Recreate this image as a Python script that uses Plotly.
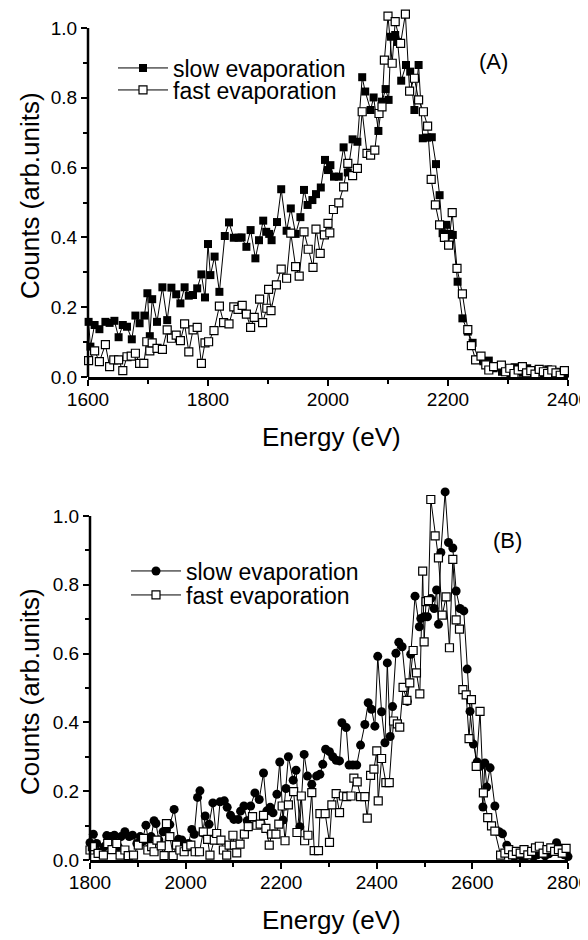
import plotly.graph_objects as go

# ---------------- Panel (A) data ----------------
energy_a_slow = [1601,1604,1611,1619,1629,1636,1644,1651,1658,1665,1673,1679,1686,1694,1699,1703,1707,1715,1724,1732,
                 1739,1747,1754,1761,1768,1775,1782,1789,1795,1800,1804,1811,1819,1828,1835,1843,1851,1856,1864,1871,
                 1879,1885,1892,1897,1902,1906,1915,1922,1931,1938,1946,1954,1960,1966,1974,1980,1988,1995,2000,2004,
                 2010,2018,2026,2033,2041,2049,2057,2062,2071,2076,2084,2090,2096,2101,2105,2112,2116,2122,2130,2137,
                 2144,2151,2158,2165,2173,2180,2186,2191,2197,2202,2208,2216,2224,2233,2241,2251,2259,2268,2276,2283,
                 2290,2297,2304,2311,2318,2325,2332,2339,2346,2353,2360,2367,2374,2381,2388,2395]
counts_a_slow = [0.158,0.087,0.149,0.137,0.158,0.155,0.161,0.114,0.149,0.144,0.108,0.176,0.154,0.176,0.240,0.117,0.223,0.158,0.257,0.163,
                 0.256,0.237,0.211,0.257,0.233,0.235,0.254,0.294,0.228,0.381,0.292,0.345,0.244,0.404,0.443,0.399,0.399,0.400,0.373,0.421,
                 0.340,0.392,0.448,0.416,0.410,0.392,0.444,0.538,0.419,0.483,0.410,0.458,0.536,0.493,0.507,0.524,0.543,0.622,0.593,0.607,
                 0.574,0.574,0.658,0.586,0.681,0.674,0.859,0.818,0.765,0.801,0.705,0.789,0.825,0.794,0.975,0.980,0.960,0.849,0.894,0.875,
                 0.765,0.894,0.684,0.686,0.687,0.610,0.521,0.412,0.436,0.410,0.407,0.273,0.168,0.130,0.098,0.051,0.045,0.047,0.025,0.030,
                 0.015,0.022,0.010,0.028,0.018,0.012,0.025,0.008,0.020,0.015,0.010,0.022,0.018,0.005,0.015,0.010]

energy_a_fast = [1601,1611,1619,1629,1636,1643,1651,1658,1665,1672,1679,1686,1693,1698,1703,1707,1715,1724,1732,1739,
                 1747,1754,1761,1768,1775,1782,1789,1795,1801,1810,1819,1826,1835,1843,1850,1857,1864,1871,1877,1886,
                 1891,1898,1901,1905,1914,1922,1931,1938,1946,1952,1960,1967,1975,1980,1987,1994,2000,2003,2009,2018,
                 2026,2033,2041,2049,2057,2065,2071,2078,2085,2090,2094,2100,2107,2112,2121,2129,2136,2144,2151,2159,
                 2166,2172,2179,2186,2194,2201,2207,2215,2224,2233,2239,2246,2255,2263,2268,2276,2289,2296,2303,2310,
                 2317,2324,2331,2338,2345,2352,2359,2366,2373,2380,2387,2394]
counts_a_fast = [0.047,0.075,0.044,0.093,0.030,0.049,0.049,0.018,0.058,0.060,0.068,0.039,0.039,0.101,0.075,0.098,0.082,0.079,0.135,0.111,
                 0.120,0.104,0.152,0.072,0.135,0.142,0.039,0.098,0.101,0.133,0.203,0.156,0.152,0.201,0.194,0.205,0.180,0.142,0.171,0.223,
                 0.156,0.197,0.251,0.190,0.264,0.309,0.283,0.412,0.316,0.289,0.416,0.366,0.314,0.424,0.354,0.407,0.440,0.413,0.480,0.499,
                 0.545,0.612,0.577,0.598,0.760,0.641,0.636,0.650,0.755,0.774,0.908,1.034,0.899,1.018,0.956,1.040,0.819,0.856,0.794,0.760,
                 0.719,0.566,0.493,0.436,0.400,0.378,0.471,0.311,0.238,0.136,0.090,0.049,0.060,0.035,0.020,0.030,0.034,0.015,0.025,0.010,
                 0.020,0.030,0.012,0.018,0.008,0.022,0.015,0.010,0.020,0.012,0.005,0.018]

# ---------------- Panel (B) data ----------------
energy_b_slow = [1800,1807,1814,1821,1830,1835,1844,1851,1859,1865,1873,1882,1889,1898,1905,1909,1917,1922,1928,1934,
                 1938,1944,1953,1960,1967,1976,1985,1992,1999,2006,2013,2018,2025,2030,2036,2041,2049,2057,2065,2072,
                 2081,2087,2094,2101,2110,2115,2122,2129,2136,2145,2154,2163,2170,2177,2183,2191,2197,2204,2210,2215,
                 2225,2231,2239,2248,2255,2264,2274,2281,2287,2293,2301,2308,2315,2322,2327,2336,2342,2350,2358,2366,
                 2375,2382,2389,2396,2402,2410,2417,2422,2428,2433,2440,2446,2453,2464,2471,2480,2489,2492,2499,2506,
                 2513,2520,2525,2529,2534,2543,2550,2559,2566,2574,2582,2589,2595,2602,2610,2616,2622,2626,2630,2637,
                 2647,2656,2663,2672,2680,2688,2696,2704,2712,2720,2728,2736,2744,2752,2760,2768,2776,2784,2792,2800]
counts_b_slow = [0.050,0.075,0.048,0.024,0.039,0.071,0.068,0.072,0.039,0.068,0.082,0.068,0.072,0.048,0.068,0.053,0.101,0.058,0.068,0.114,
                 0.106,0.058,0.082,0.087,0.103,0.147,0.060,0.058,0.043,0.048,0.089,0.075,0.182,0.201,0.079,0.128,0.104,0.166,0.058,0.169,
                 0.172,0.153,0.130,0.118,0.118,0.142,0.157,0.114,0.157,0.195,0.176,0.253,0.143,0.153,0.137,0.191,0.285,0.116,0.208,0.300,
                 0.232,0.261,0.097,0.307,0.244,0.220,0.244,0.249,0.278,0.322,0.315,0.300,0.290,0.288,0.399,0.385,0.276,0.276,0.276,0.334,
                 0.394,0.457,0.438,0.389,0.592,0.431,0.341,0.573,0.359,0.446,0.601,0.633,0.620,0.461,0.598,0.767,0.678,0.702,0.707,0.707,
                 0.760,0.731,0.785,0.685,0.894,1.070,0.923,0.907,0.782,0.731,0.724,0.555,0.432,0.337,0.285,0.272,0.154,0.282,0.212,0.268,
                 0.157,0.082,0.076,0.043,0.018,0.010,0.016,0.008,0.012,0.020,0.010,0.015,0.022,0.012,0.018,0.025,0.050,0.035,0.015,0.010]

energy_b_fast = [1800,1805,1817,1828,1837,1846,1856,1863,1873,1880,1891,1901,1912,1921,1929,1934,1940,1949,1955,1960,
                 1967,1974,1981,1988,1997,2002,2011,2020,2029,2037,2046,2051,2060,2065,2074,2079,2086,2091,2099,2102,
                 2107,2114,2123,2131,2140,2149,2156,2163,2168,2175,2180,2189,2195,2202,2208,2215,2226,2233,2242,2249,
                 2256,2264,2269,2278,2281,2292,2301,2306,2315,2322,2330,2337,2346,2352,2359,2366,2375,2380,2387,2394,
                 2400,2403,2410,2419,2426,2435,2443,2448,2455,2463,2469,2476,2483,2490,2496,2499,2503,2508,2513,2522,
                 2529,2537,2545,2552,2559,2566,2573,2580,2587,2593,2598,2608,2616,2623,2632,2640,2647,2659,2668,2676,
                 2684,2692,2700,2708,2716,2724,2732,2740,2748,2756,2764,2772,2780,2788,2796]
counts_b_fast = [0.029,0.039,0.019,0.014,0.048,0.030,0.048,0.014,0.029,0.013,0.014,0.043,0.063,0.029,0.039,0.024,0.058,0.041,0.013,0.106,
                 0.068,0.013,0.043,0.029,0.024,0.039,0.043,0.024,0.024,0.082,0.060,0.014,0.058,0.077,0.058,0.029,0.014,0.043,0.072,0.043,
                 0.021,0.046,0.075,0.097,0.126,0.101,0.104,0.130,0.092,0.043,0.075,0.075,0.104,0.157,0.056,0.160,0.199,0.080,0.186,0.056,
                 0.072,0.196,0.027,0.027,0.135,0.135,0.051,0.160,0.193,0.138,0.186,0.184,0.186,0.238,0.227,0.184,0.184,0.122,0.246,0.264,
                 0.317,0.172,0.295,0.225,0.225,0.404,0.396,0.386,0.502,0.464,0.515,0.609,0.544,0.483,0.840,0.634,0.751,0.754,1.048,0.942,
                 0.878,0.712,0.765,0.617,0.874,0.698,0.671,0.495,0.480,0.353,0.466,0.272,0.432,0.195,0.123,0.099,0.084,0.014,0.020,0.030,
                 0.015,0.025,0.020,0.030,0.015,0.025,0.035,0.040,0.020,0.030,0.035,0.025,0.030,0.020,0.034]

series_names = ["slow evaporation", "fast evaporation"]
x_ticks_a = [1600, 1800, 2000, 2200, 2400]
x_ticks_b = [1800, 2000, 2200, 2400, 2600, 2800]
y_ticks = [0.0, 0.2, 0.4, 0.6, 0.8, 1.0]

FONT = "Liberation Sans, Arial, Helvetica, sans-serif"
OFF = 8                  # page body margin: the figure starts 8 px into the window
W, H = 588, 940 - OFF

def px(x):  # window x pixel -> paper fraction
    return (x - OFF) / W

def py(y):  # window y pixel -> paper fraction
    return 1 - (y - OFF) / H

# window-pixel frame of each panel (y value 0 at bottom, axis line drawn up to 1.0)
A_left, A_right, A_y0, A_y1 = 88, 568, 377, 28
B_left, B_right, B_y0, B_y1 = 90, 568, 860, 516
A_ymax, B_ymax = 1.055, 1.10  # headroom above the 1.0 tick for the peak points
A_top = A_y0 - (A_y0 - A_y1) * A_ymax
B_top = B_y0 - (B_y0 - B_y1) * B_ymax

fig = go.Figure()
line_style = dict(color="black", width=1)
open_sq = dict(symbol="square", size=8, color="white", line=dict(color="black", width=1.2))

fig.add_trace(go.Scatter(x=energy_a_slow, y=counts_a_slow, mode="lines+markers", name=series_names[0],
                         line=line_style, marker=dict(symbol="square", size=8, color="black"),
                         xaxis="x", yaxis="y", legend="legend", cliponaxis=False))
fig.add_trace(go.Scatter(x=energy_a_fast, y=counts_a_fast, mode="lines+markers", name=series_names[1],
                         line=line_style, marker=open_sq,
                         xaxis="x", yaxis="y", legend="legend2", cliponaxis=False))
fig.add_trace(go.Scatter(x=energy_b_slow, y=counts_b_slow, mode="lines+markers", name=series_names[0],
                         line=line_style, marker=dict(symbol="circle", size=9, color="black"),
                         xaxis="x2", yaxis="y2", legend="legend3", cliponaxis=False))
fig.add_trace(go.Scatter(x=energy_b_fast, y=counts_b_fast, mode="lines+markers", name=series_names[1],
                         line=line_style, marker=open_sq,
                         xaxis="x2", yaxis="y2", legend="legend4", cliponaxis=False))

def xaxis_style(rng, ticks, dom, anchor):
    return dict(domain=dom, range=rng, tickvals=ticks, anchor=anchor, automargin=False,
                showline=True, linecolor="black", linewidth=2.5, mirror=False,
                ticks="outside", ticklen=6, tickwidth=2, tickcolor="black",
                minor=dict(dtick=100, tick0=0, ticks="outside", ticklen=4, tickwidth=2, tickcolor="black"),
                showgrid=False, zeroline=False, ticklabelstandoff=-3, ticklabeloverflow="allow",
                tickfont=dict(family=FONT, size=19, color="black"))

def yaxis_style(dom, anchor, ymax):
    return dict(domain=dom, range=[0, ymax], tickvals=y_ticks, tickformat=".1f", anchor=anchor,
                automargin=False, showline=False,
                ticks="outside", ticklen=6, tickwidth=2, tickcolor="black",
                minor=dict(tickvals=[0.1, 0.3, 0.5, 0.7, 0.9], ticks="outside", ticklen=4, tickwidth=2,
                           tickcolor="black"),
                showgrid=False, zeroline=False,
                tickfont=dict(family=FONT, size=19, color="black"))

def legend_at(x_px, y_px):
    return dict(x=px(x_px), y=py(y_px), xanchor="left", yanchor="middle", bgcolor="rgba(0,0,0,0)",
                font=dict(family=FONT, size=23, color="black"), itemwidth=50)

def label(text, x, y, size, angle=0):
    return dict(text=text, x=px(x), y=py(y), xref="paper", yref="paper", showarrow=False,
                xanchor="center", yanchor="middle", textangle=angle,
                font=dict(family=FONT, size=size, color="black"))

fig.update_layout(
    width=W, height=H, margin=dict(l=0, r=0, t=0, b=0, autoexpand=False),
    paper_bgcolor="white", plot_bgcolor="white",
    font=dict(family=FONT, color="black"),
    xaxis=xaxis_style([1600, 2400], x_ticks_a, [px(A_left), px(A_right)], "y"),
    yaxis=yaxis_style([py(A_y0), min(1.0, py(A_top))], "x", A_ymax),
    xaxis2=xaxis_style([1800, 2800], x_ticks_b, [px(B_left), px(B_right)], "y2"),
    yaxis2=yaxis_style([py(B_y0), py(B_top)], "x2", B_ymax),
    legend=legend_at(113, 68),
    legend2=legend_at(113, 90),
    legend3=legend_at(126, 571),
    legend4=legend_at(126, 595),
    showlegend=True,
    shapes=[
        dict(type="line", xref="x domain", yref="y", x0=0, x1=0, y0=0, y1=1.0,
             line=dict(color="black", width=2.5)),
        dict(type="line", xref="x2 domain", yref="y2", x0=0, x1=0, y0=0, y1=1.0,
             line=dict(color="black", width=2.5)),
    ],
    annotations=[
        label("(A)", 493, 62, 22),
        label("(B)", 508, 540, 22),
        label("Energy (eV)", 332, 437, 26),
        label("Energy (eV)", 332, 920, 26),
        label("Counts (arb.units)", 30, 196, 26, -90),
        label("Counts (arb.units)", 30, 692, 26, -90),
    ],
)

fig.write_html("out.html")
